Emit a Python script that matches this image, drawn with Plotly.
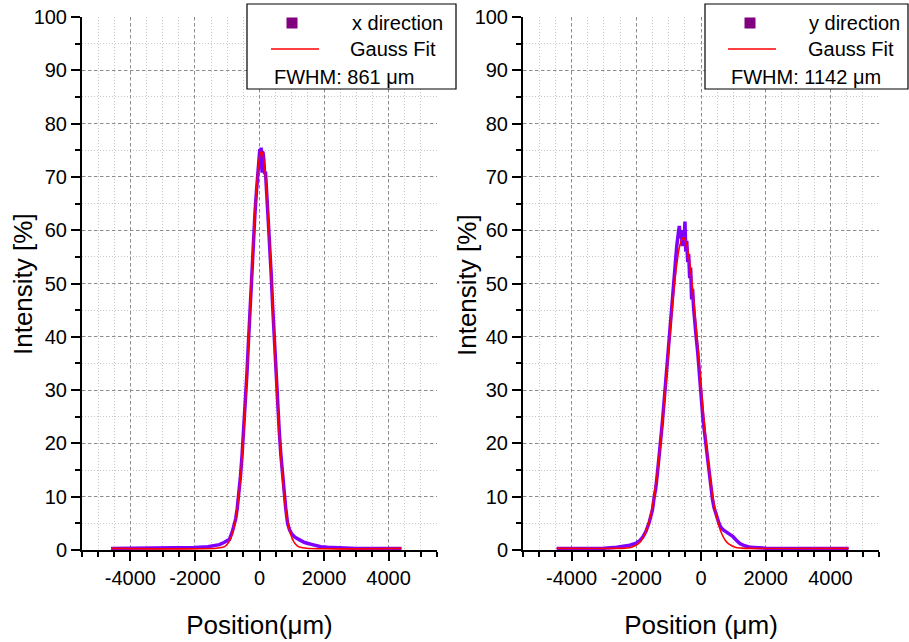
import plotly.graph_objects as go
from plotly.subplots import make_subplots

# ---------------- data ----------------
x_dir_pos = [-4600, -3000, -2400, -2000, -1600, -1400, -1240, -1100, -1000, -930, -840, -790, -740,
             -690, -640, -590, -540, -490, -440, -390, -340, -290, -240, -190, -140, -90, -40, -10,
             10, 30, 50, 70, 80, 90, 110, 130, 160, 185, 210, 260, 310, 330, 360, 410, 460, 510,
             560, 610, 660, 710, 760, 810, 870, 930, 1000, 1100, 1240, 1400, 1640, 1900, 2100,
             2500, 3000, 4400]
x_dir_int = [0.3, 0.3, 0.35, 0.45, 0.6, 0.8, 1.0, 1.4, 1.7, 2.0, 3.5, 4.5, 5.8,
             7.8, 10.4, 13.8, 17.8, 22.3, 27.4, 33.0, 39.3, 45.8, 52.2, 58.3, 63.2, 67.6, 70.6, 72.5,
             75.2, 74.0, 75.5, 72.0, 70.8, 74.8, 74.5, 73.5, 70.5, 71.0, 67.5, 63.0, 57.5, 54.0, 52.0,
             45.5, 39.0, 33.5, 27.5, 22.5, 18.0, 14.0, 10.0, 8.0, 5.0, 3.8, 3.0, 2.4, 1.9, 1.4, 1.0,
             0.6, 0.5, 0.35, 0.3, 0.3]

x_fit_pos = [-4600, -1340, -1140, -1040, -940, -840, -790, -740, -690, -640, -590, -540, -490, -440,
             -390, -340, -290, -240, -190, -140, -90, -40, 10, 60, 110, 160, 210, 260, 310, 360,
             410, 460, 510, 560, 610, 660, 710, 760, 810, 860, 910, 960, 1060, 1160, 1260, 1460, 4400]
x_fit_int = [0.3, 0.32, 0.51, 0.83, 1.56, 3.03, 4.20, 5.77, 7.80, 10.38, 13.58, 17.44, 21.97, 27.15,
             32.90, 39.07, 45.48, 51.90, 58.02, 63.58, 68.27, 71.82, 74.04, 74.8, 74.04, 71.82, 68.27,
             63.58, 58.02, 51.90, 45.48, 39.07, 32.90, 27.15, 21.97, 17.44, 13.58, 10.38, 7.80, 5.77,
             4.20, 3.03, 1.56, 0.83, 0.51, 0.32, 0.3]

y_dir_pos = [-4460, -3500, -3000, -2600, -2400, -2200, -2000, -1900, -1800, -1700, -1600, -1500, -1445,
             -1400, -1345, -1300, -1245, -1200, -1145, -1100, -1045, -1000, -945, -900, -845, -800,
             -750, -700, -670, -640, -610, -580, -550, -520, -496, -470, -440, -410, -380, -350, -320,
             -290, -260, -230, -200, -150, -100, -50, 0, 20, 55, 100, 155, 200, 255, 300, 355, 400,
             455, 500, 555, 600, 680, 800, 900, 990, 1100, 1200, 1350, 1520, 2000, 3000, 4560]
y_dir_int = [0.3, 0.3, 0.35, 0.5, 0.7, 0.9, 1.3, 1.7, 2.4, 3.5, 5.2, 7.5, 10.0,
             11.5, 14.5, 17.0, 20.5, 23.5, 27.5, 31.0, 35.0, 38.5, 42.5, 45.5, 50.0, 53.5,
             57.0, 59.5, 60.8, 58.5, 60.0, 57.0, 59.5, 58.0, 61.6, 56.0, 58.0, 54.0, 55.5, 51.0, 53.0,
             47.0, 49.0, 45.5, 43.0, 40.0, 37.0, 33.0, 28.5, 26.5, 25.0, 22.5, 19.5, 17.0, 14.0, 11.5,
             9.5, 8.0, 6.8, 5.8, 5.0, 4.4, 3.8, 3.3, 2.9, 2.5, 1.8, 1.2, 0.8, 0.5, 0.35, 0.3, 0.3]

y_fit_pos = [-4460, -2545, -2345, -2145, -1945, -1845, -1745, -1645, -1545, -1445, -1345, -1245, -1145,
             -1045, -945, -845, -745, -645, -545, -445, -345, -245, -145, -45, 55, 155, 255, 355,
             455, 555, 655, 755, 855, 1055, 1255, 1455, 4560]
y_fit_int = [0.3, 0.3, 0.35, 0.52, 1.13, 1.79, 2.86, 4.52, 6.96, 10.35, 14.84, 20.43, 26.99,
             34.19, 41.50, 48.26, 53.76, 57.35, 58.6, 57.35, 53.76, 48.26, 41.50, 34.19, 26.99,
             20.43, 14.84, 10.35, 6.96, 4.52, 2.86, 1.79, 1.13, 0.52, 0.35, 0.3, 0.3]

x_ticks = [-4000, -2000, 0, 2000, 4000]
y_ticks = [0, 10, 20, 30, 40, 50, 60, 70, 80, 90, 100]

legend_left = ["x direction", "Gauss Fit", "FWHM: 861 μm"]
legend_right = ["y direction", "Gauss Fit", "FWHM: 1142 μm"]
y_title = "Intensity [%]"
x_titles = ["Position(μm)", "Position (μm)"]

DATA_COLOR = "#7f00ff"
FIT_COLOR = "#ff0000"
FONT = "Arial, Liberation Sans, sans-serif"

W, H = 909, 642


def px(x):
    return x / W


def py(y):
    return 1 - y / H


fig = make_subplots(rows=1, cols=2)

fig.add_trace(go.Scatter(x=x_dir_pos, y=x_dir_int, mode="lines",
                         line=dict(color=DATA_COLOR, width=3.5), showlegend=False), 1, 1)
fig.add_trace(go.Scatter(x=x_fit_pos, y=x_fit_int, mode="lines", line_shape="spline",
                         line=dict(color=FIT_COLOR, width=1.6), showlegend=False), 1, 1)
fig.add_trace(go.Scatter(x=y_dir_pos, y=y_dir_int, mode="lines",
                         line=dict(color=DATA_COLOR, width=3.5), showlegend=False), 1, 2)
fig.add_trace(go.Scatter(x=y_fit_pos, y=y_fit_int, mode="lines", line_shape="spline",
                         line=dict(color=FIT_COLOR, width=1.6), showlegend=False), 1, 2)

xaxis_common = dict(
    range=[-5500, 5500], tickmode="array", tickvals=x_ticks, ticktext=[str(v) for v in x_ticks],
    showline=True, linecolor="black", linewidth=2, mirror=False,
    ticks="outside", ticklen=9, tickwidth=2, tickcolor="black",
    showgrid=True, gridcolor="#8c8c8c", griddash="3px,3px", gridwidth=1,
    zeroline=False, tickfont=dict(family=FONT, size=20, color="black"),
    automargin=False,
    minor=dict(dtick=500, tick0=0, ticks="outside", ticklen=5, tickwidth=2, tickcolor="black",
               showgrid=True, gridcolor="#c8c8c8", griddash="1px,2px", gridwidth=1),
    title=dict(font=dict(family=FONT, size=26, color="black"), standoff=28),
)
yaxis_common = dict(
    range=[0, 100], tickmode="array", tickvals=y_ticks, ticktext=[str(v) for v in y_ticks],
    showline=True, linecolor="black", linewidth=2, mirror=False,
    ticks="outside", ticklen=9, tickwidth=2, tickcolor="black",
    showgrid=True, gridcolor="#8c8c8c", griddash="3px,3px", gridwidth=1,
    zeroline=False, tickfont=dict(family=FONT, size=20, color="black"),
    automargin=False,
    minor=dict(dtick=5, tick0=0, ticks="outside", ticklen=5, tickwidth=2, tickcolor="black",
               showgrid=True, gridcolor="#c8c8c8", griddash="1px,2px", gridwidth=1),
)

ydom = [py(550), py(17)]
fig.update_layout(
    width=W, height=H, margin=dict(l=0, r=0, t=0, b=0, autoexpand=False),
    paper_bgcolor="white", plot_bgcolor="white",
    xaxis=dict(xaxis_common, domain=[px(82), px(437)]),
    xaxis2=dict(xaxis_common, domain=[px(523), px(879)]),
    yaxis=dict(yaxis_common, domain=ydom),
    yaxis2=dict(yaxis_common, domain=ydom),
)
fig.layout.xaxis.title.text = x_titles[0]
fig.layout.xaxis2.title.text = x_titles[1]

# legend boxes drawn as layout shapes/annotations
shapes = []
annotations = []
for (bx0, bx1, sq_x, ln_x0, ln_x1, t1x, t2x, t3x, texts) in [
    (247, 456, 292, 271, 319, 350, 348, 272, legend_left),
    (705, 908, 750, 728, 776, 807, 806, 729, legend_right),
]:
    shapes.append(dict(type="rect", xref="paper", yref="paper",
                       x0=px(bx0), x1=px(bx1), y0=py(89), y1=py(4),
                       line=dict(color="black", width=1.2), fillcolor="white"))
    shapes.append(dict(type="rect", xref="paper", yref="paper",
                       x0=px(sq_x - 5.5), x1=px(sq_x + 5.5), y0=py(28.5), y1=py(17.5),
                       line=dict(width=0), fillcolor="#800080"))
    shapes.append(dict(type="line", xref="paper", yref="paper",
                       x0=px(ln_x0), x1=px(ln_x1), y0=py(49), y1=py(49),
                       line=dict(color=FIT_COLOR, width=1.6)))
    for tx, ty, t in [(t1x, 23, texts[0]), (t2x, 49, texts[1]), (t3x, 77, texts[2])]:
        annotations.append(dict(x=px(tx), y=py(ty), xref="paper", yref="paper",
                                text=t, showarrow=False, xanchor="left", yanchor="middle",
                                font=dict(family=FONT, size=20, color="black")))

# y-axis titles placed precisely
for tx, ty in [(23, 284), (467, 285)]:
    annotations.append(dict(x=px(tx), y=py(ty), xref="paper", yref="paper",
                            text=y_title, textangle=-90, showarrow=False,
                            xanchor="center", yanchor="middle",
                            font=dict(family=FONT, size=26, color="black")))

fig.update_layout(shapes=shapes, annotations=annotations)

fig.write_html("out.html")
